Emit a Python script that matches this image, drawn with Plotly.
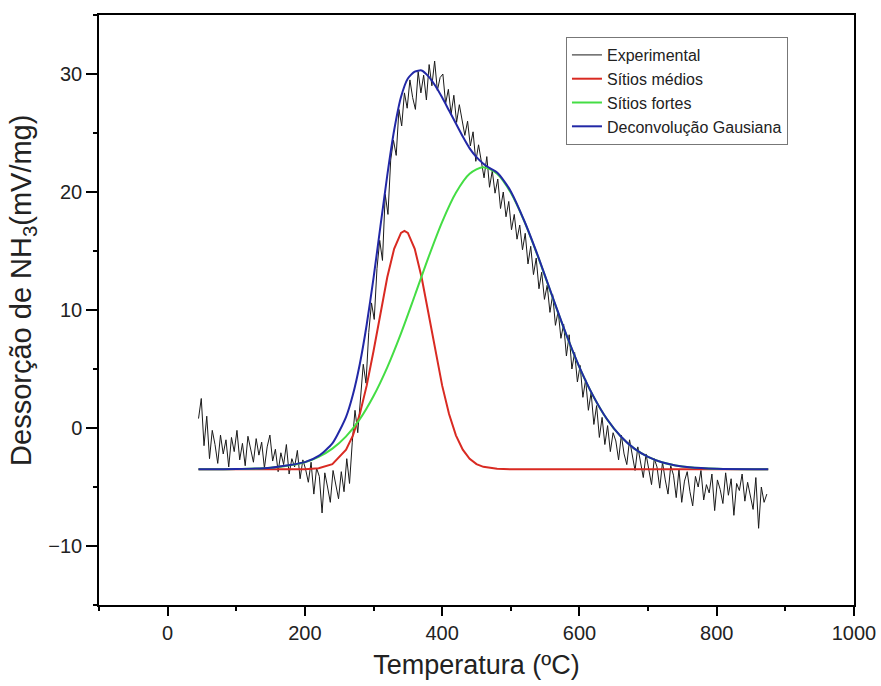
import plotly.graph_objects as go

# ---------------- data ----------------
exp_T = [45, 49, 53, 57, 61, 65, 69, 73, 77, 81,
         85, 89, 93, 97, 101, 105, 109, 113, 117, 121,
         125, 129, 133, 137, 141, 145, 149, 153, 157, 161,
         165, 169, 173, 177, 181, 185, 189, 193, 197, 201,
         205, 209, 213, 217, 221, 225, 229, 233, 237, 241,
         245, 249, 253, 257, 261, 265, 269, 273, 277, 281,
         285, 289, 293, 297, 301, 305, 309, 313, 317, 321,
         325, 329, 333, 337, 341, 345, 349, 353, 357, 361,
         365, 369, 373, 377, 381, 385, 389, 393, 397, 401,
         405, 409, 413, 417, 421, 425, 429, 433, 437, 441,
         445, 449, 453, 457, 461, 465, 469, 473, 477, 481,
         485, 489, 493, 497, 501, 505, 509, 513, 517, 521,
         525, 529, 533, 537, 541, 545, 549, 553, 557, 561,
         565, 569, 573, 577, 581, 585, 589, 593, 597, 601,
         605, 609, 613, 617, 621, 625, 629, 633, 637, 641,
         645, 649, 653, 657, 661, 665, 669, 673, 677, 681,
         685, 689, 693, 697, 701, 705, 709, 713, 717, 721,
         725, 729, 733, 737, 741, 745, 749, 753, 757, 761,
         765, 769, 773, 777, 781, 785, 789, 793, 797, 801,
         805, 809, 813, 817, 821, 825, 829, 833, 837, 841,
         845, 849, 853, 857, 861, 865, 869, 873]
exp_val = [0.8, 2.5, -1.5, 1.0, -2.6, -0.2, -1.4, -3.0, -0.6, -2.2,
           -1.0, -3.3, -0.8, -2.0, -0.2, -2.7, -1.3, -3.2, -0.7, -1.9,
           -2.9, -0.9, -2.3, -1.2, -3.4, -1.6, -0.6, -2.8, -1.8, -3.7,
           -2.1, -3.1, -1.4, -3.9, -2.6, -3.3, -1.9, -4.3, -2.7, -3.5,
           -4.6, -2.9, -5.6, -3.4, -4.1, -7.2, -3.8, -5.0, -6.3, -3.6,
           -4.8, -6.0, -3.7, -5.4, -2.6, -4.7, -1.2, 1.5, -0.4, 2.9,
           5.4, 3.8, 8.1, 10.6, 9.2, 13.5, 15.9, 14.2, 19.8, 18.1,
           22.7, 24.4, 23.1, 27.0, 25.6, 28.4, 27.1, 29.5, 28.0, 27.0,
           30.2, 28.4, 29.9, 27.8, 30.8, 29.0, 31.1, 28.6, 29.7, 30.0,
           27.5, 28.7, 26.6, 28.2, 25.9, 27.4, 26.2, 24.8, 26.0, 23.9,
           25.1, 22.6, 24.0, 22.4, 21.2, 23.0, 20.4, 21.8, 19.9, 21.1,
           18.6, 20.0, 17.9, 19.2, 16.8, 18.1, 16.0, 17.2, 15.1, 16.5,
           13.9, 15.4, 13.0, 14.4, 11.8, 13.2, 10.9, 12.1, 9.8, 11.3,
           8.7, 9.9, 7.6, 8.8, 6.1, 7.9, 5.0, 6.4, 3.9, 5.3,
           2.6, 4.1, 1.5, 3.0, 0.3, 1.9, -0.8, 0.9, -1.4, 0.2,
           -2.0, -0.4, -1.1, -2.7, -0.6, -2.2, -3.1, -1.0, -2.5, -3.6,
           -1.6, -3.0, -4.2, -2.2, -3.5, -4.8, -2.6, -3.3, -5.1, -2.9,
           -4.4, -5.6, -3.2, -4.0, -5.9, -3.5, -6.3, -4.5, -3.7, -5.4,
           -6.6, -4.1, -5.0, -3.6, -6.1, -4.8, -5.5, -3.9, -7.0, -4.4,
           -5.2, -6.4, -3.8, -5.7, -4.3, -7.4, -4.7, -5.3, -3.9, -6.2,
           -4.6, -5.8, -6.9, -4.2, -8.5, -5.0, -6.3, -5.6]

red_T = [45, 100, 150, 200, 220, 240, 260, 270, 280, 290, 300, 310, 320, 330, 340, 345, 350, 360, 370, 380,
         390, 400, 410, 420, 430, 440, 450, 460, 480, 500, 600, 700, 800, 875]
red_val = [-3.5, -3.5, -3.5, -3.49, -3.41, -3.06, -1.84, -0.62, 1.18, 3.59, 6.52, 9.72, 12.77, 15.19, 16.53, 16.7,
           16.53, 15.19, 12.77, 9.72, 6.52, 3.59, 1.18, -0.62, -1.84, -2.61, -3.06, -3.29, -3.46, -3.5, -3.5, -3.5,
           -3.5, -3.5]

green_T = [45, 100, 150, 200, 220, 240, 260, 280, 300, 320, 340, 360, 380, 400, 420, 440, 460, 480, 500, 520,
           540, 560, 580, 600, 620, 640, 660, 680, 700, 720, 740, 760, 800, 875]
green_val = [-3.5, -3.48, -3.37, -2.90, -2.45, -1.75, -0.71, 0.75, 2.71, 5.14, 8.02, 11.21, 14.46, 17.47, 19.93,
             21.54, 22.1, 21.54, 19.93, 17.47, 14.46, 11.21, 8.02, 5.14, 2.71, 0.75, -0.71, -1.75, -2.45, -2.90,
             -3.17, -3.33, -3.46, -3.5]

blue_T = [45, 100, 150, 200, 220, 240, 260, 270, 280, 290, 300, 310, 320, 330, 340, 350, 360, 370, 380, 390,
          400, 410, 420, 430, 440, 450, 460, 470, 480, 490, 500, 520, 540, 560, 580, 600, 620, 640, 660, 680,
          700, 720, 740, 760, 800, 875]
blue_val = [-3.5, -3.48, -3.37, -2.89, -2.36, -1.31, 0.95, 2.84, 5.43, 8.75, 12.73, 17.08, 21.41, 25.23, 28.05,
            29.62, 30.2, 30.3, 29.8, 29.0, 28.0, 26.9, 25.8, 24.7, 23.7, 22.95, 22.4, 22.0, 21.65, 20.95, 20.05,
            17.5, 14.5, 11.25, 8.05, 5.16, 2.72, 0.76, -0.7, -1.75, -2.45, -2.9, -3.17, -3.33, -3.46, -3.5]

names = ["Experimental", "Sítios médios", "Sítios fortes", "Deconvolução Gausiana"]
x_title = "Temperatura (ºC)"
y_title = "Dessorção de NH<sub>3</sub>(mV/mg)"

FONT = "Liberation Sans, Arial, sans-serif"
TXT = "#222222"

fig = go.Figure()
fig.add_trace(go.Scatter(x=exp_T, y=exp_val, mode="lines", name=names[0],
                         line=dict(color="#1a1a1a", width=1)))
fig.add_trace(go.Scatter(x=red_T, y=red_val, mode="lines", name=names[1],
                         line=dict(color="#d92a22", width=2)))
fig.add_trace(go.Scatter(x=green_T, y=green_val, mode="lines", name=names[2],
                         line=dict(color="#44dd44", width=2, shape="spline", smoothing=0.8)))
fig.add_trace(go.Scatter(x=blue_T, y=blue_val, mode="lines", name=names[3],
                         line=dict(color="#2228a6", width=2, shape="spline", smoothing=0.6)))

axis_common = dict(showline=True, linecolor="black", linewidth=1.5, mirror=True,
                   ticks="outside", tickcolor="black", tickwidth=1.5, showgrid=False, zeroline=False,
                   tickfont=dict(family=FONT, size=20, color=TXT))

fig.update_xaxes(range=[-100, 1000], tick0=0, dtick=200, ticklen=9,
                 minor=dict(dtick=100, ticklen=4, ticks="outside", tickcolor="black", tickwidth=1.5),
                 title=dict(text=x_title, font=dict(family=FONT, size=27, color=TXT), standoff=12),
                 **axis_common)
fig.update_yaxes(range=[-15, 35], tick0=0, dtick=10, ticklen=11,
                 minor=dict(dtick=5, ticklen=4, ticks="outside", tickcolor="black", tickwidth=1.5),
                 **axis_common)

fig.add_annotation(text=y_title, xref="paper", yref="paper",
                   x=-0.1007, y=0.534, xanchor="center", yanchor="middle",
                   textangle=-90, showarrow=False,
                   font=dict(family=FONT, size=29, color=TXT))

fig.update_layout(
    width=881, height=686,
    margin=dict(l=99, r=27, t=15, b=81, autoexpand=False),
    paper_bgcolor="white", plot_bgcolor="white",
    font=dict(family=FONT, color=TXT),
    legend=dict(x=0.6185, y=0.9627, xanchor="left", yanchor="top",
                bgcolor="white", bordercolor="#777", borderwidth=1,
                font=dict(family=FONT, size=16, color=TXT),
                tracegroupgap=0, itemwidth=30),
    showlegend=True,
)

fig.write_html("out.html")
